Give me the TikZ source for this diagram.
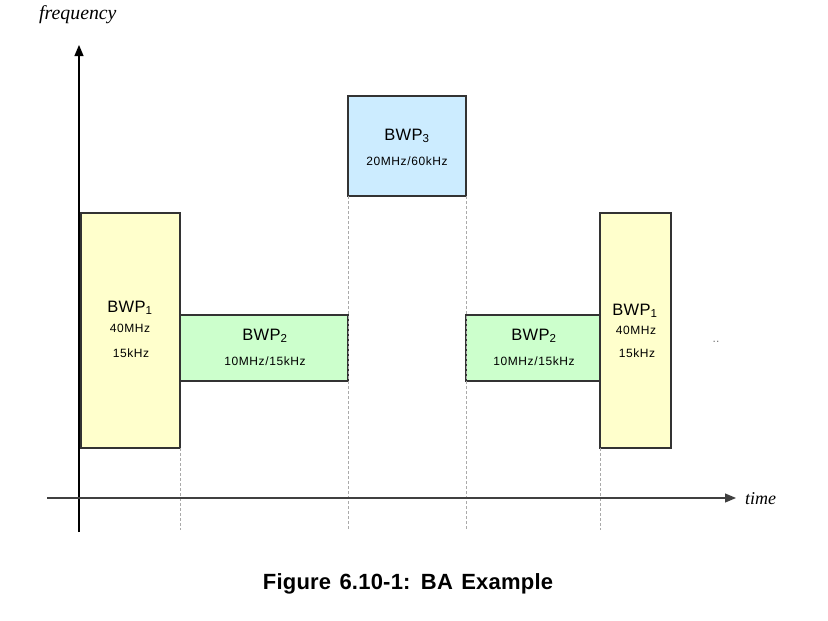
\documentclass[tikz,border=0pt]{standalone}
\usepackage{fontspec}
\setmainfont{Liberation Sans}
\newfontfamily\serifit{Liberation Serif}
\newfontfamily\bigsans[LetterSpace=2]{Liberation Sans}
\newfontfamily\smallsans[LetterSpace=5]{Liberation Sans}
\newfontfamily\capsans[LetterSpace=1]{Liberation Sans}
\usetikzlibrary{arrows.meta}
\definecolor{yelfill}{HTML}{FFFFCC}
\definecolor{grnfill}{HTML}{CCFFCC}
\definecolor{blufill}{HTML}{CCECFF}
\definecolor{boxline}{HTML}{333333}
\definecolor{dashgray}{HTML}{AAAAAA}
\begin{document}
\begin{tikzpicture}[x=1pt,y=-1pt,
  bwpbox/.style={draw=boxline,line width=1.2pt,inner sep=0pt,outer sep=0pt},
  big/.style={font=\bigsans\fontsize{16.5}{16.5}\selectfont,inner sep=0pt},
  small/.style={font=\smallsans\fontsize{12}{12}\selectfont,inner sep=0pt},
  axis/.style={line width=1.2pt,-{Triangle[length=11pt,width=9pt]}},
  guide/.style={draw=dashgray,line width=0.7pt,dash pattern=on 3pt off 2pt}]
\useasboundingbox (0,0) rectangle (828,621);
% boxes
\node[bwpbox,fill=yelfill,minimum width=99pt,minimum height=235pt] (b1l) at (130.5,330.5) {};
\node[bwpbox,fill=grnfill,minimum width=168pt,minimum height=66pt] (b2l) at (264,348) {};
\node[bwpbox,fill=blufill,minimum width=118pt,minimum height=100pt] (b3) at (407,146) {};
\node[bwpbox,fill=grnfill,minimum width=134pt,minimum height=66pt] (b2r) at (533,348) {};
\node[bwpbox,fill=yelfill,minimum width=71pt,minimum height=235pt] (b1r) at (635.5,330.5) {};
% guide coordinates
\coordinate (g1) at (180,530);
\coordinate (g2) at (348,530);
\coordinate (g3) at (466,530);
\coordinate (g4) at (600,530);
\draw[guide] (b1l.south east) -- (g1);
\draw[guide] (b3.south west) -- (g2);
\draw[guide] (b3.south east) -- (g3);
\draw[guide] (b1r.south west) -- (g4);
% axes
\coordinate (yb) at (79,532);
\coordinate (yt) at (79,45);
\coordinate (xl) at (47,498);
\coordinate (xr) at (736,498);
\draw[axis,black] (yb) -- (yt);
\draw[axis,black!75] (xl) -- (xr);
\node[font=\serifit\itshape\fontsize{19.8}{19.8}\selectfont,inner sep=0pt,anchor=west] (flab) at (39,15) {frequency};
\node[font=\serifit\itshape\fontsize{18}{18}\selectfont,inner sep=0pt,anchor=west] (tlab) at (745,499) {time};
% labels
\node[big] (t1a) at (130,308) {BWP\textsubscript{1}};
\node[small] (t1b) at (130,328) {40MHz};
\node[small] (t1c) at (131,353) {15kHz};
\node[big] (t2a) at (265,336) {BWP\textsubscript{2}};
\node[small] (t2b) at (265,361) {10MHz/15kHz};
\node[big] (t3a) at (407,136) {BWP\textsubscript{3}};
\node[small] (t3b) at (407,161) {20MHz/60kHz};
\node[big] (t4a) at (534,336) {BWP\textsubscript{2}};
\node[small] (t4b) at (534,361) {10MHz/15kHz};
\node[big] (t5a) at (635,311) {BWP\textsubscript{1}};
\node[small] (t5b) at (636,330) {40MHz};
\node[small] (t5c) at (637,353) {15kHz};
\node[font=\fontsize{12}{12}\selectfont,inner sep=0pt,text=black!55] (dots) at (716,342) {..};
% caption
\node[font=\capsans\bfseries\fontsize{22}{22}\selectfont,inner sep=0pt] (cap) at (408,584) {Figure\hspace{2pt} 6.10-1:\hspace{2pt} BA\hspace{2pt} Example};
\end{tikzpicture}
\end{document}
